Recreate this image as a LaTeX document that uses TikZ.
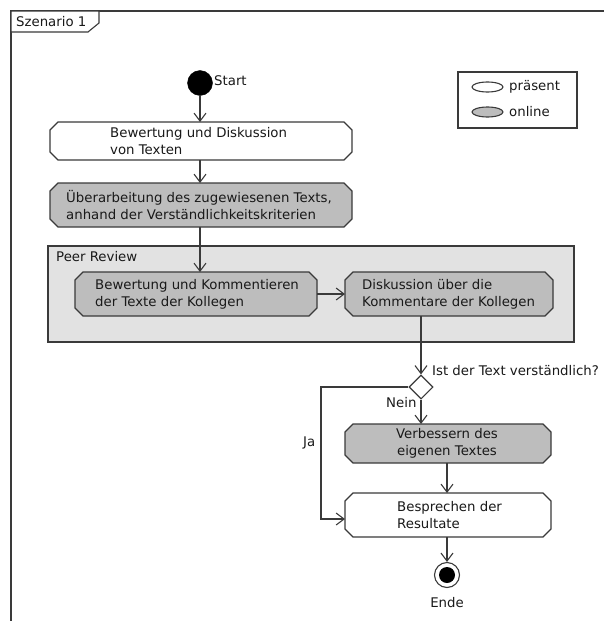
\documentclass[tikz,border=0pt]{standalone}
\usepackage{fontspec}
\setmainfont{DejaVu Sans}
\usetikzlibrary{arrows.meta,shapes.geometric}
\definecolor{linec}{HTML}{3A3A3A}
\definecolor{onlinefill}{HTML}{BDBDBD}
\definecolor{groupfill}{HTML}{E2E2E2}
% outline of an activity with cut corners, drawn round a named slot node
\newcommand\chamferoutline[2]{%
  \path[line, fill=#2]
    ([xshift=8pt]#1.north west) -- ([xshift=-8pt]#1.north east)
    -- ([yshift=-8pt]#1.north east) -- ([yshift=8pt]#1.south east)
    -- ([xshift=-8pt]#1.south east) -- ([xshift=8pt]#1.south west)
    -- ([yshift=8pt]#1.south west) -- ([yshift=-8pt]#1.north west) -- cycle;}

\begin{document}
\begin{tikzpicture}[x=1pt,y=-1pt,
  every node/.style={font=\fontsize{13.3}{17}\selectfont, text=black!90},
  line/.style={draw=linec, line width=1.1pt},
  arr/.style={line, -{Straight Barb[length=8pt,width=12pt]}},
  slot/.style={rectangle, inner sep=0pt, outer sep=0pt, draw=none},
  lbl/.style={inner sep=0pt, anchor=west, align=left},
  ctr/.style={inner sep=0pt, align=center},
  legendshape/.style={ellipse, line, inner sep=0pt, minimum width=31pt, minimum height=10pt}
]
\useasboundingbox (0,0) rectangle (604,621);

% diagram frame with its title tab
\draw[line] (604,11) -- (11,11) -- (11,621);
\draw[line, fill=white] (11,11) -- (99,11) -- (99,23) -- (88,32) -- (11,32) -- cycle;
\node[lbl] (frametitle) at (16,22) {Szenario 1};

% legend
\node[rectangle, line, minimum width=119pt, minimum height=56pt] (legend) at (517.5,100) {};
\node[legendshape, fill=white] (lpres) at (487.5,87) {};
\node[legendshape, fill=onlinefill] (lonl) at (487.5,112) {};
\node[lbl] (lprest) at (509,87) {präsent};
\node[lbl] (lonlt) at (509,112) {online};

% start
\node[circle, fill=black, draw=black, minimum size=25pt, inner sep=0pt] (start) at (200,83) {};
\node[lbl] (startlbl) at (214,81) {Start};

% first two activities
\node[slot, minimum width=302pt, minimum height=38pt] (b1) at (201,141) {};
\chamferoutline{b1}{white}
\node[lbl] (b1t) at (110,141) {Bewertung und Diskussion\\von Texten};

\node[slot, minimum width=302pt, minimum height=44pt] (b2) at (201,205) {};
\chamferoutline{b2}{onlinefill}
\node[lbl] (b2t) at (66,205) {Überarbeitung des zugewiesenen Texts,\\anhand der Verständlichkeitskriterien};

% peer review group
\node[rectangle, line, fill=groupfill, minimum width=526pt, minimum height=96pt] (pr) at (311,294) {};
\node[lbl] (prt) at (56,257) {Peer Review};

\node[slot, minimum width=242pt, minimum height=44pt] (pa) at (196,294) {};
\chamferoutline{pa}{onlinefill}
\node[lbl] (pat) at (95,294) {Bewertung und Kommentieren\\der Texte der Kollegen};

\node[slot, minimum width=208pt, minimum height=44pt] (pb) at (449,294) {};
\chamferoutline{pb}{onlinefill}
\node[lbl] (pbt) at (362,294) {Diskussion über die\\Kommentare der Kollegen};

% decision
\node[diamond, line, fill=white, minimum width=24pt, minimum height=24pt, inner sep=0pt] (dia) at (421,387) {};
\node[lbl] (diat) at (432,371) {Ist der Text verständlich?};
\node[lbl] (nein) at (386,403) {Nein};
\node[lbl] (ja) at (303,443) {Ja};

% improvement and discussion of results
\node[slot, minimum width=206pt, minimum height=39pt] (ver) at (448,443.5) {};
\chamferoutline{ver}{onlinefill}
\node[ctr] (vert) at (447,443.5) {Verbessern des\\eigenen Textes};

\node[slot, minimum width=206pt, minimum height=44pt] (bes) at (448,515) {};
\chamferoutline{bes}{white}
\node[lbl] (best) at (397,515) {Besprechen der\\Resultate};

% end
\node[circle, line, fill=white, minimum size=25pt, inner sep=0pt] (endo) at (447,575) {};
\node[circle, fill=black, minimum size=16pt, inner sep=0pt] (endi) at (endo) {};
\node[ctr] (endt) at (447,603) {Ende};

% control flow
\draw[arr] (start) -- (b1.north -| start);
\draw[arr] (b1.south -| start) -- (b2.north -| start);
\draw[arr] (b2.south -| start) -- (pa.north -| start);
\draw[arr] (pa.east) -- (pb.west);
\draw[arr] (pb.south -| dia) -- (dia.north);
\draw[arr] (dia.south) -- (ver.north -| dia);
\draw[arr] (dia.west) -| (321,452) |- ([yshift=-4pt]bes.west);
\draw[arr] (ver.south -| endo) -- (bes.north -| endo);
\draw[arr] (bes.south -| endo) -- (endo);
\end{tikzpicture}
\end{document}
